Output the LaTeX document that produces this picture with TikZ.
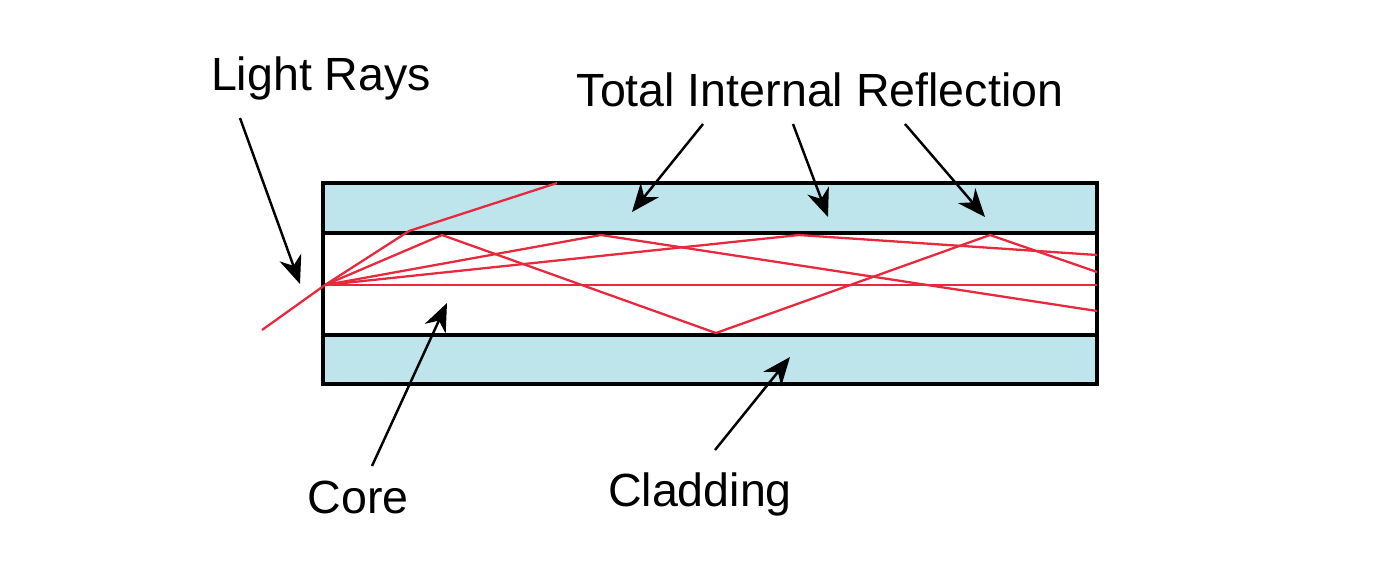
\documentclass[tikz,border=0pt]{standalone}
\usepackage{fontspec}
\setmainfont{Liberation Sans}
\usetikzlibrary{arrows.meta,positioning}
\definecolor{claddingbg}{RGB}{190,228,236}
\definecolor{rayred}{RGB}{232,40,60}

\begin{document}
\begin{tikzpicture}[
  x=0.02cm, y=-0.02cm,
  >={Stealth[length=16pt,width=13pt,inset=5pt]},
  label/.style={font=\fontsize{26.5}{30}\selectfont, inner sep=0pt},
  pointer/.style={->, line width=1.4pt, black},
  wall/.style={line width=2.8pt, black},
  ray/.style={line width=1.3pt, rayred}
]
\useasboundingbox (0,0) rectangle (1378,586);

% ------------------------------------------------------------------
% Fibre body
% ------------------------------------------------------------------
\fill[claddingbg] (323,183) rectangle (1097,233);
\fill[claddingbg] (323,335) rectangle (1097,384);
\draw[wall] (323,183) rectangle (1097,384);
\draw[wall] (323,233) -- (1097,233);
\draw[wall] (323,335) -- (1097,335);

% ------------------------------------------------------------------
% Light rays
% ------------------------------------------------------------------
\coordinate (entry) at (325,285);
\draw[ray] (262,330) -- (entry);
\draw[ray] (entry) -- (409,231) -- (557,183);
\draw[ray] (entry) -- (442,235) -- (716,333) -- (990,235) -- (1097,272);
\draw[ray] (entry) -- (601,235) -- (1097,311);
\draw[ray] (entry) -- (799,235) -- (1097,255);
\draw[ray] (entry) -- (1097,285);

% ------------------------------------------------------------------
% Labels
% ------------------------------------------------------------------
\node[label] (rays) at (321,78) {Light Rays};
\node[label] (tir) at (820,90) {Total Internal Reflection};
\node[label] (core) at (358,497) {Core};
\node[label] (cladding) at (700,494) {Cladding};

\coordinate (raystip) at (300,284);
\coordinate (tirtipa) at (632,212);
\coordinate (tirtipb) at (828,217);
\coordinate (tirtipc) at (985,217);
\coordinate (coretip) at (447,303);
\coordinate (cladtip) at (790,357);

\draw[pointer] (240,118) -- (raystip);
\draw[pointer] (703,124) -- (tirtipa);
\draw[pointer] (793,124) -- (tirtipb);
\draw[pointer] (905,124) -- (tirtipc);
\draw[pointer] (372,466) -- (coretip);
\draw[pointer] (715,450) -- (cladtip);
\end{tikzpicture}
\end{document}
